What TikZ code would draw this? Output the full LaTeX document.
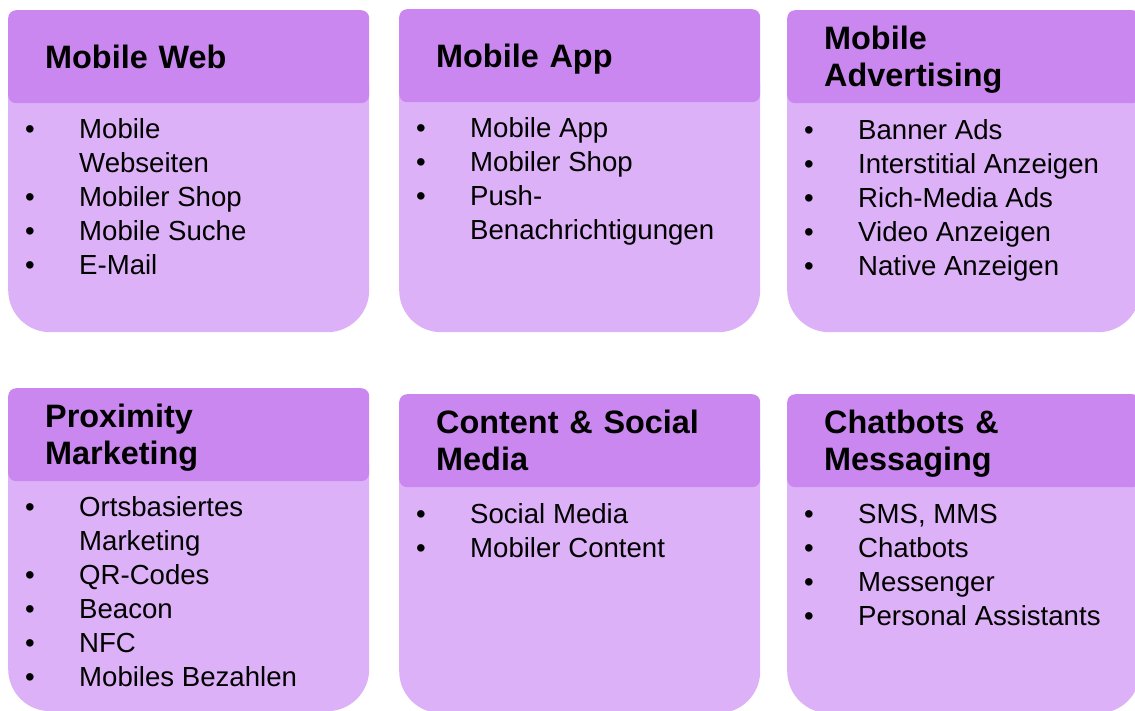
\documentclass[tikz,border=0pt]{standalone}
\usepackage{fontspec}
\setmainfont{Liberation Sans}
\usepackage{xcolor}
\usetikzlibrary{positioning}
\definecolor{headviolet}{RGB}{202,135,240}
\definecolor{bodyviolet}{RGB}{221,177,247}
\tikzstyle{head} = [rectangle, rounded corners=8pt, minimum width=361pt, minimum height=93pt, inner xsep=37pt, inner ysep=0pt, text width=287pt, align=left, fill=headviolet, anchor=north west, font=\fontsize{32.4}{37}\selectfont\bfseries]
\tikzstyle{body} = [rectangle, rounded corners=42pt, minimum width=361pt, inner sep=0pt, fill=bodyviolet, anchor=north west]
\tikzstyle{items} = [inner sep=0pt, anchor=base west, font=\fontsize{27.6}{34}\selectfont]
\newcommand{\bulletlist}[1]{\begin{tabular}[t]{@{}p{54pt}@{}l@{}}#1\end{tabular}}
\newcommand{\itm}{\textbullet}
% last header line without descender depth, so the title sits centred
\newcommand{\nodepth}[1]{\raisebox{0pt}[\height][0pt]{#1}}

\begin{document}
\begin{tikzpicture}[x=1pt, y=-1pt]
    \useasboundingbox (0,0) rectangle (1135,710);

    % top row
    \node (body1) [body, minimum height=287pt] at (8,45) {};
    \node (head1) [head] at (8,10) {Mobile Web};
    \node (body2) [body, minimum height=287pt] at (399,45) {};
    \node (head2) [head] at (399,9) {\nodepth{Mobile App}};
    \node (body3) [body, minimum height=287pt, minimum width=353pt] at (787,45) {};
    \node (head3) [head, minimum width=353pt, text width=279pt] at (787,10) {Mobile\\\nodepth{Advertising}};

    % bottom row
    \node (body4) [body, minimum height=286pt] at (8,425) {};
    \node (head4) [head] at (8,388) {Proximity\\\nodepth{Marketing}};
    \node (body5) [body, minimum height=283pt] at (399,430) {};
    \node (head5) [head] at (399,394) {Content \& Social\\Media};
    \node (body6) [body, minimum height=283pt, minimum width=353pt] at (787,430) {};
    \node (head6) [head, minimum width=353pt, text width=279pt] at (787,394) {Chatbots \&\\\nodepth{Messaging}};

    \node (list1) [items] at ([shift={(17pt,-35pt)}]head1.south west)
        {\bulletlist{\itm & Mobile\\ & Webseiten\\ \itm & Mobiler Shop\\ \itm & Mobile Suche\\ \itm & E-Mail}};
    \node (list2) [items] at ([shift={(17pt,-35pt)}]head2.south west)
        {\bulletlist{\itm & Mobile App\\ \itm & Mobiler Shop\\ \itm & Push-\\ & Benachrichtigungen}};
    \node (list3) [items] at ([shift={(17pt,-36pt)}]head3.south west)
        {\bulletlist{\itm & Banner Ads\\ \itm & Interstitial Anzeigen\\ \itm & Rich-Media Ads\\ \itm & Video Anzeigen\\ \itm & Native Anzeigen}};
    \node (list4) [items] at ([shift={(17pt,-35pt)}]head4.south west)
        {\bulletlist{\itm & Ortsbasiertes\\ & Marketing\\ \itm & QR-Codes\\ \itm & Beacon\\ \itm & NFC\\ \itm & Mobiles Bezahlen}};
    \node (list5) [items] at ([shift={(17pt,-36pt)}]head5.south west)
        {\bulletlist{\itm & Social Media\\ \itm & Mobiler Content}};
    \node (list6) [items] at ([shift={(17pt,-36pt)}]head6.south west)
        {\bulletlist{\itm & SMS, MMS\\ \itm & Chatbots\\ \itm & Messenger\\ \itm & Personal Assistants}};
%    \draw [red] (0,0) rectangle (1135,710);

\end{tikzpicture}
\end{document}
